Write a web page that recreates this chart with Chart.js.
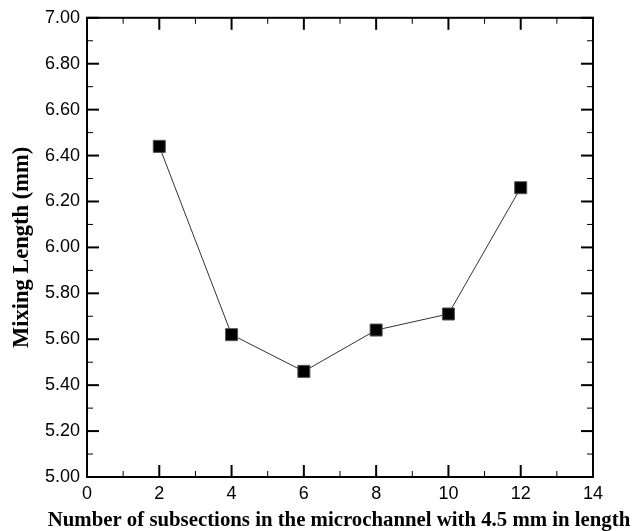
<!DOCTYPE html>
<html>
<head>
<meta charset="utf-8">
<script src="https://cdn.jsdelivr.net/npm/chart.js@4/dist/chart.umd.min.js"></script>
<style>
  html, body { margin: 0; padding: 0; background: #fff; }
  #wrap { width: 632px; height: 531px; }
</style>
</head>
<body>
<div id="wrap"><canvas id="mixChart" width="632" height="531"></canvas></div>
<script>
// data
var subsections = [2, 4, 6, 8, 10, 12];
var mixingLength = [6.44, 5.62, 5.46, 5.64, 5.71, 6.26];

var xTitle = "Number of subsections in the microchannel with 4.5 mm in length";
var yTitle = "Mixing Length (mm)";

// frame + inward ticks on all four sides
var frameTicks = {
  id: "frameTicks",
  afterDatasetsDraw: function (chart) {
    var ctx = chart.ctx;
    var a = chart.chartArea;
    var xs = chart.scales.x;
    var ys = chart.scales.y;
    ctx.save();
    ctx.strokeStyle = "#000";

    function tick(x1, y1, x2, y2, w) {
      ctx.lineWidth = w;
      ctx.beginPath();
      ctx.moveTo(x1, y1);
      ctx.lineTo(x2, y2);
      ctx.stroke();
    }

    for (var v = 0; v <= 14; v += 1) {
      var px = xs.getPixelForValue(v);
      var major = v % 2 === 0;
      var len = major ? 12 : 6;
      var w = major ? 2 : 1;
      tick(px, a.bottom, px, a.bottom - len, w);
      tick(px, a.top, px, a.top + len, w);
    }
    for (var i = 0; i <= 20; i++) {
      var val = 5 + i * 0.1;
      var py = ys.getPixelForValue(val);
      var maj = i % 2 === 0;
      var l = maj ? 12 : 6;
      var lw = maj ? 2 : 1;
      tick(a.left, py, a.left + l, py, lw);
      tick(a.right, py, a.right - l, py, lw);
    }

    ctx.lineWidth = 2;
    ctx.strokeRect(a.left, a.top, a.right - a.left, a.bottom - a.top);

    // x title is wider than the plot, so draw it here (chart.js would squeeze it)
    ctx.fillStyle = "#000";
    ctx.font = "bold 20.8px 'Liberation Serif'";
    ctx.textAlign = "center";
    ctx.textBaseline = "alphabetic";
    ctx.fillText(xTitle, (a.left + a.right) / 2 - 1, 526);
    ctx.restore();
  }
};

var ctx = document.getElementById("mixChart").getContext("2d");
var mixChart = new Chart(ctx, {
  type: "scatter",
  data: {
    datasets: [{
      data: subsections.map(function (s, i) { return { x: s, y: mixingLength[i] }; }),
      showLine: true,
      borderColor: "#333",
      borderWidth: 1,
      pointStyle: "rect",
      pointRadius: 8.5,
      pointBackgroundColor: "#000",
      pointBorderColor: "#555",
      pointBorderWidth: 1
    }]
  },
  options: {
    responsive: false,
    animation: false,
    layout: { padding: { top: 16, right: 39, left: 0, bottom: 0 } },
    plugins: {
      legend: { display: false },
      tooltip: { enabled: false }
    },
    scales: {
      x: {
        type: "linear",
        min: 0,
        max: 14,
        afterFit: function (s) { s.height = 54; },
        grid: { display: false, drawTicks: false },
        border: { display: false },
        ticks: {
          stepSize: 2,
          padding: 6,
          color: "#000",
          font: { family: "Liberation Sans", size: 18 }
        },
        title: { display: false }
      },
      y: {
        min: 5,
        max: 7,
        afterFit: function (s) { s.width = 87; },
        grid: { display: false, drawTicks: false },
        border: { display: false },
        ticks: {
          stepSize: 0.2,
          padding: 7,
          color: "#000",
          font: { family: "Liberation Sans", size: 18 },
          callback: function (v) { return v.toFixed(2); }
        },
        title: {
          display: true,
          text: yTitle,
          color: "#000",
          padding: { top: 9, bottom: 0 },
          font: { family: "Liberation Serif", size: 22.5, weight: "bold" }
        }
      }
    }
  },
  plugins: [frameTicks]
});
</script>
</body>
</html>
